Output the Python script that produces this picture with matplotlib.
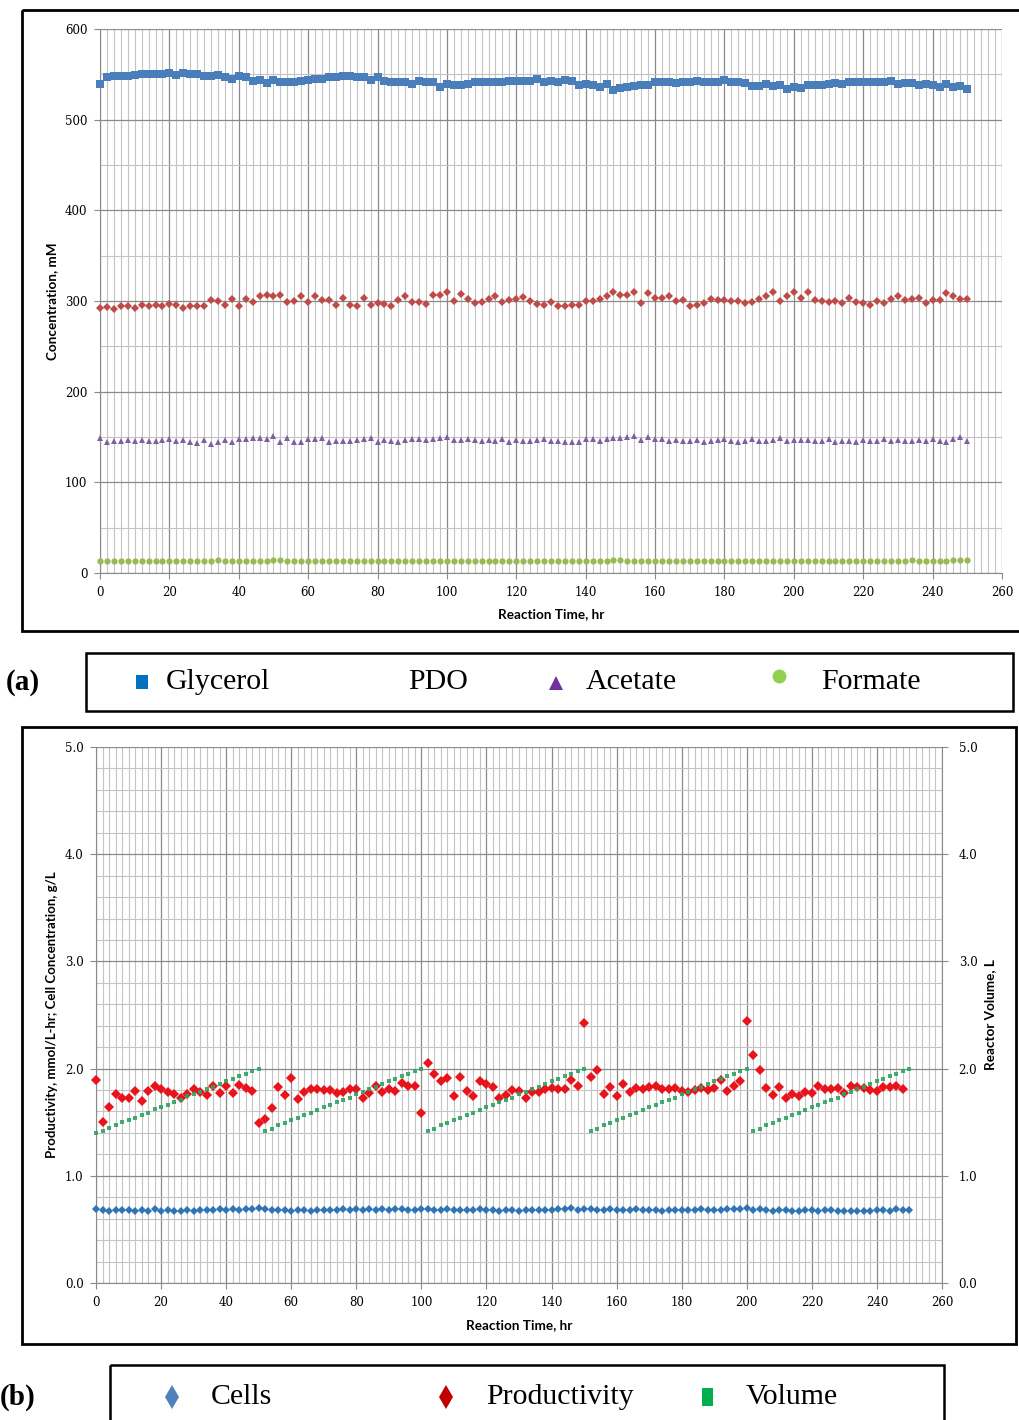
import numpy as np
import matplotlib
matplotlib.use('Agg')
import matplotlib.pyplot as plt
from matplotlib.patches import Rectangle
from matplotlib.ticker import MultipleLocator

plt.rcParams['font.family'] = 'DejaVu Serif'

# sampling times, every 2 h
hours = np.arange(0, 252, 2)
prod_hours = np.arange(0, 250, 2)

# (a) concentrations, mM
glycerol = [539, 547, 548, 548, 548, 549, 550, 550, 550, 550,
            551, 549, 551, 550, 550, 548, 548, 549, 547, 545,
            548, 547, 543, 544, 540, 544, 541, 542, 542, 543,
            544, 545, 545, 547, 547, 548, 548, 547, 547, 544,
            547, 543, 541, 541, 542, 539, 543, 542, 541, 536,
            539, 538, 538, 539, 541, 541, 541, 542, 542, 543,
            543, 543, 543, 545, 542, 543, 541, 544, 543, 538,
            539, 538, 536, 539, 533, 535, 536, 537, 538, 538,
            541, 541, 541, 540, 542, 542, 543, 541, 541, 542,
            544, 542, 541, 540, 537, 537, 539, 537, 538, 534,
            536, 535, 538, 538, 538, 539, 540, 539, 541, 542,
            541, 542, 541, 542, 543, 539, 540, 540, 538, 539,
            538, 536, 539, 536, 537, 534]

pdo = [292, 293, 291, 294, 294.5, 292, 296, 294.5, 296, 294.5,
       297, 296, 292, 294, 294, 294.5, 301, 300, 296, 302,
       294, 302, 298.5, 306, 306.6, 305, 306.6, 298.5, 300, 305,
       299, 305, 301, 301, 296, 303, 296, 294, 303.7, 296,
       298, 297, 294, 301, 305.5, 298.5, 298.5, 296.7, 306.6, 306.6,
       309.6, 300, 307.7, 302, 298, 298.5, 302, 305, 299, 301,
       302, 304, 300, 296.7, 296, 298.5, 294.5, 294.5, 296, 296,
       300, 300, 302, 305, 309.6, 306.6, 306.6, 309.6, 297.4, 308.5,
       303.7, 303.7, 305.5, 300.4, 301, 294.5, 296, 297.4, 302, 301,
       301, 300.4, 300.4, 298, 299, 302, 305, 309.6, 300, 305,
       309.6, 303.7, 309.6, 301, 300.4, 299, 300.4, 297.4, 303, 299,
       298, 296, 300.4, 298, 302, 305, 301, 302, 303.7, 297.4,
       301, 301, 308.5, 306, 302, 302]

acetate = [148.6, 145, 145.7, 145.7, 146.8, 146, 146.8, 146, 146, 146.8,
           147.5, 146, 146.8, 145, 143.2, 146.8, 142, 145, 146.8, 144,
           147.5, 147.9, 148.6, 148.6, 147.5, 151, 144.3, 148.6, 144.3, 144.3,
           147.9, 147.9, 148.6, 144.3, 146, 146, 146, 146.8, 147.9, 148.6,
           144, 146.8, 146, 144.3, 146.8, 147.9, 147.9, 146.8, 148, 148.6,
           150, 147, 146.5, 148, 147, 145.5, 147, 146, 148, 144.5,
           147, 146, 145.5, 147, 148, 146, 146, 145, 145, 144.5,
           148, 147.5, 146, 148, 149, 148.5, 150.5, 151.5, 147, 149.5,
           147.5, 148, 146, 147, 145.5, 146, 147, 145, 146, 147,
           148, 146, 144.5, 146, 147.5, 146, 146, 147, 148.5, 146,
           147, 146.5, 147, 146, 146, 147.5, 145, 146, 146, 145,
           147, 145.5, 146, 148, 146, 147, 146, 145.5, 147, 146,
           147.5, 146, 145, 147.5, 150, 146]

formate = [13, 13, 13, 13, 13, 13, 13, 13, 13, 13,
           13, 13, 13, 13, 13, 13, 13.5, 14, 13.5, 13.5,
           13, 13, 13, 13, 13.5, 14, 14, 13.5, 13.5, 13,
           13.5, 13, 13.5, 13, 13, 13.5, 13, 13, 13.5, 13,
           13, 13.5, 13, 13, 13, 13, 13, 13, 13.5, 13,
           13, 13.5, 13, 13, 13, 13.5, 13, 13, 13, 13.5,
           13, 13, 13, 13.5, 13, 13, 13, 13, 13, 13.5,
           13.5, 13, 13, 13.5, 14, 14, 13.5, 13.5, 13, 13,
           13, 13, 13, 13, 13, 13, 13, 13, 13, 13,
           13.5, 13, 13, 13, 13, 13.5, 13, 13, 13.5, 13.5,
           13.5, 13, 13, 13, 13.5, 13, 13, 13, 13, 13.5,
           13, 13.5, 13, 13, 13.5, 13.5, 13.5, 14, 13.5, 13,
           13.5, 13.5, 13, 14, 14, 14]

# (b) productivity (mmol/L-hr), cells (g/L), reactor volume (L)
productivity = [1.89, 1.50, 1.64, 1.76, 1.73, 1.73, 1.79, 1.70, 1.79, 1.84,
                1.81, 1.78, 1.76, 1.73, 1.76, 1.81, 1.78, 1.75, 1.84, 1.77,
                1.84, 1.77, 1.85, 1.82, 1.79, 1.49, 1.53, 1.63, 1.83, 1.75,
                1.91, 1.72, 1.78, 1.81, 1.81, 1.80, 1.80, 1.77, 1.78, 1.81,
                1.81, 1.73, 1.77, 1.84, 1.78, 1.81, 1.79, 1.87, 1.84, 1.84,
                1.59, 2.05, 1.95, 1.88, 1.91, 1.74, 1.92, 1.79, 1.74, 1.88,
                1.86, 1.83, 1.73, 1.75, 1.80, 1.79, 1.73, 1.78, 1.78, 1.81,
                1.82, 1.81, 1.81, 1.89, 1.84, 2.43, 1.92, 1.99, 1.76, 1.83,
                1.74, 1.86, 1.78, 1.82, 1.81, 1.83, 1.84, 1.81, 1.81, 1.82,
                1.79, 1.78, 1.80, 1.82, 1.80, 1.82, 1.89, 1.79, 1.84, 1.88,
                2.44, 2.13, 1.99, 1.82, 1.75, 1.83, 1.73, 1.76, 1.74, 1.78,
                1.77, 1.84, 1.81, 1.81, 1.82, 1.77, 1.84, 1.83, 1.82, 1.80,
                1.79, 1.83, 1.83, 1.84, 1.81]

cells = [0.69, 0.68, 0.67, 0.68, 0.68, 0.68, 0.67, 0.68, 0.67, 0.69,
         0.67, 0.68, 0.67, 0.67, 0.68, 0.67, 0.68, 0.68, 0.68, 0.69,
         0.68, 0.69, 0.68, 0.69, 0.69, 0.70, 0.69, 0.68, 0.68, 0.68,
         0.67, 0.68, 0.68, 0.67, 0.68, 0.68, 0.68, 0.68, 0.69, 0.68,
         0.69, 0.68, 0.69, 0.68, 0.69, 0.68, 0.69, 0.69, 0.68, 0.68,
         0.69, 0.69, 0.68, 0.68, 0.69, 0.68, 0.68, 0.68, 0.68, 0.69,
         0.68, 0.68, 0.67, 0.68, 0.68, 0.67, 0.68, 0.68, 0.68, 0.68,
         0.68, 0.69, 0.69, 0.70, 0.68, 0.69, 0.69, 0.68, 0.68, 0.69,
         0.68, 0.68, 0.68, 0.69, 0.68, 0.68, 0.68, 0.67, 0.68, 0.68,
         0.68, 0.68, 0.68, 0.69, 0.68, 0.68, 0.68, 0.69, 0.69, 0.69,
         0.70, 0.68, 0.69, 0.68, 0.67, 0.68, 0.68, 0.67, 0.67, 0.68,
         0.68, 0.67, 0.68, 0.68, 0.67, 0.67, 0.67, 0.67, 0.67, 0.67,
         0.68, 0.68, 0.67, 0.69, 0.68, 0.68]

volume = [1.40, 1.42, 1.45, 1.47, 1.50, 1.52, 1.54, 1.57, 1.59, 1.62,
          1.64, 1.66, 1.69, 1.71, 1.74, 1.76, 1.78, 1.81, 1.83, 1.86,
          1.88, 1.90, 1.93, 1.95, 1.98, 2.00,
          1.42, 1.44, 1.47, 1.49, 1.52, 1.54, 1.57, 1.59, 1.61, 1.64,
          1.66, 1.69, 1.71, 1.73, 1.76, 1.78, 1.81, 1.83, 1.86, 1.88,
          1.90, 1.93, 1.95, 1.98, 2.00,
          1.42, 1.44, 1.47, 1.49, 1.52, 1.54, 1.57, 1.59, 1.61, 1.64,
          1.66, 1.69, 1.71, 1.73, 1.76, 1.78, 1.81, 1.83, 1.86, 1.88,
          1.90, 1.93, 1.95, 1.98, 2.00,
          1.42, 1.44, 1.47, 1.49, 1.52, 1.54, 1.57, 1.59, 1.61, 1.64,
          1.66, 1.69, 1.71, 1.73, 1.76, 1.78, 1.81, 1.83, 1.86, 1.88,
          1.90, 1.93, 1.95, 1.98, 2.00,
          1.42, 1.44, 1.47, 1.49, 1.52, 1.54, 1.57, 1.59, 1.61, 1.64,
          1.66, 1.69, 1.71, 1.73, 1.76, 1.78, 1.81, 1.83, 1.86, 1.88,
          1.90, 1.93, 1.95, 1.98, 2.00]

W, H = 1019, 1420
fig = plt.figure(figsize=(W / 100, H / 100), dpi=100)

# full-figure overlay in pixel units for frames and legends
ov = fig.add_axes([0, 0, 1, 1])
ov.set_xlim(0, W)
ov.set_ylim(H, 0)
ov.axis('off')


def px_axes(x0, y0, x1, y1):
    return fig.add_axes([x0 / W, 1 - y1 / H, (x1 - x0) / W, (y1 - y0) / H])


def style_grid(ax, ymaj, ymin):
    ax.set_xlim(0, 260)
    ax.xaxis.set_major_locator(MultipleLocator(20))
    ax.xaxis.set_minor_locator(MultipleLocator(2))
    ax.yaxis.set_major_locator(MultipleLocator(ymaj))
    ax.yaxis.set_minor_locator(MultipleLocator(ymin))
    ax.grid(which='major', color='#8a8a8a', lw=0.9)
    ax.grid(which='minor', color='#c4c4c4', lw=0.8)
    ax.set_axisbelow(True)
    for s in ['top', 'right']:
        ax.spines[s].set_visible(False)
    for s in ['left', 'bottom']:
        ax.spines[s].set_color('#8a8a8a')
    ax.tick_params(which='major', length=4, color='#8a8a8a', labelsize=8.5, pad=5)
    ax.tick_params(which='minor', length=0)


lab_font = dict(family='Lato', weight='bold', size=9.7)
pts = dict(ls='none', mew=0, zorder=3, clip_on=False)

# ---- (a) concentrations ----
ax1 = px_axes(100, 29, 1002, 573)
style_grid(ax1, 100, 50)
ax1.set_ylim(0, 600)
ax1.plot(hours, glycerol, marker='s', ms=5.8, color='#4A7EBB', **pts)
ax1.plot(hours, pdo, marker='D', ms=4.2, color='#BE4B48', **pts)
ax1.plot(hours, acetate, marker='^', ms=4.5, color='#7D60A0', **pts)
ax1.plot(hours, formate, marker='o', ms=4.5, color='#98B954', **pts)
ax1.set_xlabel('Reaction Time, hr', **lab_font)
ax1.set_ylabel('Concentration, mM', **lab_font)
ax1.xaxis.set_label_coords(0.5, -0.075)
ax1.yaxis.set_label_coords(-0.053, 0.5)
ax1.xaxis.label.set_va('center')
ax1.yaxis.label.set_va('center')

# ---- (b) productivity, cells and volume ----
ax2 = px_axes(96, 747, 942, 1283)
style_grid(ax2, 1, 0.2)
ax2.set_ylim(0, 5)
ax2.yaxis.set_major_formatter(lambda v, p: f'{v:.1f}')
ax2.plot(hours, cells, marker='D', ms=4, color='#2F75B5', **pts)
ax2.plot(prod_hours, productivity, marker='D', ms=5, color='#E8141B', **pts)
ax2.set_xlabel('Reaction Time, hr', **lab_font)
ax2.set_ylabel('Productivity, mmol/L-hr; Cell Concentration, g/L', size=9.5,
               family='Lato', weight='bold')
ax2.xaxis.set_label_coords(0.5, -0.078)
ax2.yaxis.set_label_coords(-0.052, 0.5)
ax2.xaxis.label.set_va('center')
ax2.yaxis.label.set_va('center')

ax3 = ax2.twinx()
ax3.set_ylim(0, 5)
ax3.yaxis.set_major_locator(MultipleLocator(1))
ax3.yaxis.set_major_formatter(lambda v, p: f'{v:.1f}')
for s in ['top', 'left', 'bottom']:
    ax3.spines[s].set_visible(False)
ax3.spines['right'].set_color('#8a8a8a')
ax3.tick_params(length=4, color='#8a8a8a', labelsize=8.5, pad=8)
ax3.plot(hours, volume, marker='s', ms=3, color='#2EA360', alpha=0.9, **pts)
ax3.set_ylabel('Reactor Volume, L', **lab_font)
ax3.yaxis.set_label_coords(1.057, 0.5)
ax3.yaxis.label.set_va('center')

# ---- frames ----
ov.add_patch(Rectangle((22, 10), 1010, 621, fill=False, lw=2, ec='black'))
ov.add_patch(Rectangle((22, 727), 994, 617, fill=False, lw=2, ec='black'))

# ---- legend (a) ----
leg_font = dict(family='Liberation Serif', size=21.5, va='center')
ov.add_patch(Rectangle((86, 653), 927, 58, fill=False, lw=1.8, ec='black'))
ov.text(6, 682, '(a)', family='Liberation Serif', weight='bold', size=21, va='center')
ov.add_patch(Rectangle((136, 675), 12, 14, color='#0070C0', lw=0))
ov.text(166, 682, 'Glycerol', **leg_font)
ov.text(408, 682, 'PDO', **leg_font)
ov.plot([556], [683], marker='^', ms=10, mew=0, color='#7030A0')
ov.text(586, 682, 'Acetate', **leg_font)
ov.plot([779], [676], marker='o', ms=10, mew=0, color='#92D050')
ov.text(821, 682, 'Formate', **leg_font)

# ---- legend (b) ----
ov.add_patch(Rectangle((110, 1365), 834, 90, fill=False, lw=1.8, ec='black', clip_on=False))
ov.text(0, 1397, '(b)', family='Liberation Serif', weight='bold', size=21, va='center')
ov.plot([172], [1397], marker='d', ms=12, mew=0, color='#4F81BD')
ov.text(211, 1397, 'Cells', **leg_font)
ov.plot([446], [1397], marker='d', ms=12, mew=0, color='#C00000')
ov.text(486, 1397, 'Productivity', **leg_font)
ov.add_patch(Rectangle((702, 1388), 11, 18, color='#00B050', lw=0))
ov.text(746, 1397, 'Volume', **leg_font)

fig.savefig('out.png', dpi=100)
